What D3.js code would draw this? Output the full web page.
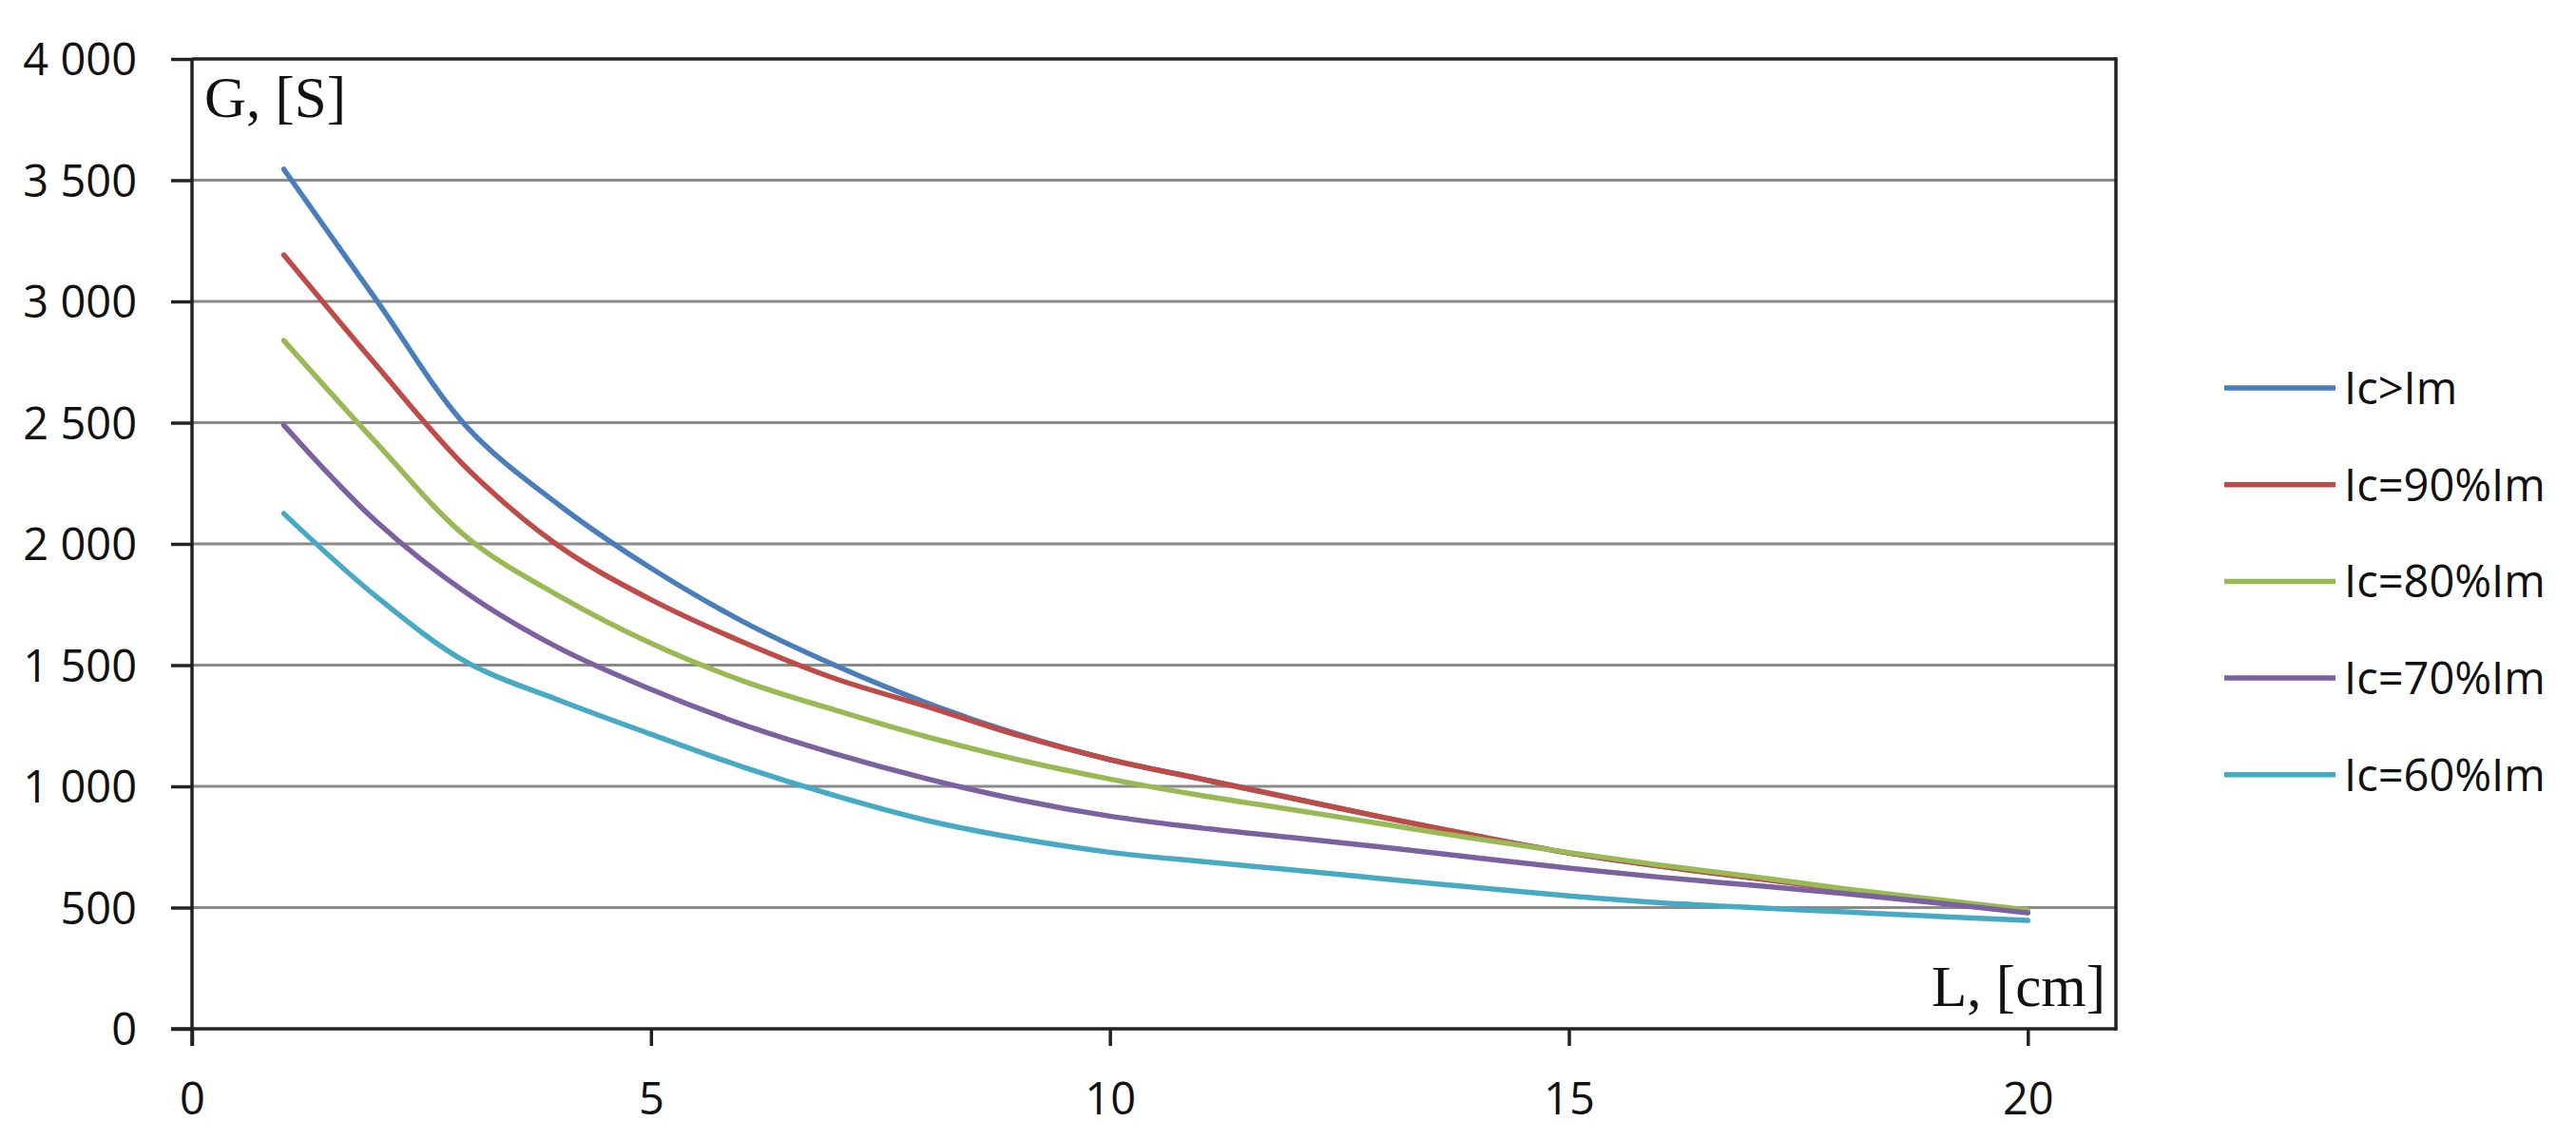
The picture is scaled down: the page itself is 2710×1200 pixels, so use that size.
<!DOCTYPE html>
<html>
<head>
<meta charset="utf-8">
<script src="https://cdn.jsdelivr.net/npm/d3@7"></script>
<style>
  html, body { margin: 0; padding: 0; background: #ffffff; }
  svg { display: block; }
</style>
</head>
<body>
<svg id="chart" width="2710" height="1200"></svg>
<script>
// ---- data ----
const lengths = [1,2,3,4,5,6,7,8,9,10,11,12,13,14,15,16,17,18,19,20];
const seriesNames = ["Ic>Im", "Ic=90%Im", "Ic=80%Im", "Ic=70%Im", "Ic=60%Im"];
const seriesColors = ["#4A7EBB", "#BE4B48", "#98B954", "#7D60A0", "#46AAC5"];
const gFull = [3545,3010,2480,2160,1900,1680,1500,1345,1215,1110,1030,950,870,795,725,670,622,575,528,480];
const g90   = [3192,2740,2310,1990,1770,1595,1445,1330,1210,1110,1030,950,870,795,725,670,622,575,528,480];
const g80   = [2839,2420,2025,1785,1590,1435,1315,1205,1110,1030,962,903,843,783,727,675,628,578,533,490];
const g70   = [2490,2095,1795,1570,1400,1255,1135,1032,945,877,828,788,748,705,663,625,592,558,520,478];
const g60   = [2125,1785,1510,1355,1215,1080,962,860,785,728,690,655,618,582,548,520,500,482,464,447];
const seriesValues = [gFull, g90, g80, g70, g60];
const xTicks = [0,5,10,15,20];
const yTicks = [0,500,1000,1500,2000,2500,3000,3500,4000];
const yTickLabels = ["0","500","1 000","1 500","2 000","2 500","3 000","3 500","4 000"];
const yTitle = "G, [S]";
const xTitle = "L, [cm]";

// ---- layout ----
const svg = d3.select("#chart");
const pLeft = 202, pRight = 2226, pTop = 62, pBottom = 1082;
const x = d3.scaleLinear().domain([0, 20.96]).range([pLeft, pRight]);
const y = d3.scaleLinear().domain([0, 4000]).range([pBottom, pTop]);
const textColor = "#111111";
const sansFont = "'Open Sans', 'Noto Sans', sans-serif";
const serifFont = "'Liberation Serif', 'Times New Roman', serif";

// gridlines
svg.append("g").selectAll("line")
  .data(yTicks.filter(v => v > 0 && v < 4000))
  .join("line")
  .attr("x1", pLeft).attr("x2", pRight)
  .attr("y1", d => y(d)).attr("y2", d => y(d))
  .attr("stroke", "#8a8a8a").attr("stroke-width", 3);

// frame top & right
svg.append("line").attr("x1", pLeft).attr("x2", pRight).attr("y1", pTop).attr("y2", pTop)
  .attr("stroke", "#222").attr("stroke-width", 3.5);
svg.append("line").attr("x1", pRight).attr("x2", pRight).attr("y1", pTop).attr("y2", pBottom)
  .attr("stroke", "#222").attr("stroke-width", 3.5).attr("stroke-linecap", "square");

// y axis
const yAxis = d3.axisLeft(y).tickValues(yTicks).tickSize(22).tickPadding(36)
  .tickFormat((d, i) => yTickLabels[i]);
const gy = svg.append("g").attr("transform", `translate(${pLeft},0)`).call(yAxis);
gy.select(".domain").attr("stroke", "#222").attr("stroke-width", 3.5)
  .attr("d", `M0,${pTop}V${pBottom + 18}`);
gy.selectAll(".tick line").attr("stroke", "#222").attr("stroke-width", 3.5);
gy.selectAll(".tick text").attr("fill", textColor).style("font-family", sansFont)
  .style("font-size", "47px").attr("dy", "0.36em");

// x axis
const xAxis = d3.axisBottom(x).tickValues(xTicks).tickSize(18).tickPadding(39)
  .tickFormat(d3.format("d"));
const gx = svg.append("g").attr("transform", `translate(0,${pBottom})`).call(xAxis);
gx.select(".domain").attr("stroke", "#222").attr("stroke-width", 3.5)
  .attr("d", `M${pLeft - 22},0H${pRight}`);
gx.selectAll(".tick line").attr("stroke", "#222").attr("stroke-width", 3.5);
gx.selectAll(".tick text").attr("fill", textColor).style("font-family", sansFont)
  .style("font-size", "47px").attr("dy", "0.71em");

// series lines
const line = d3.line()
  .x((d, i) => x(lengths[i]))
  .y(d => y(d))
  .curve(d3.curveCatmullRom.alpha(0.5));
svg.append("g").selectAll("path")
  .data(seriesValues)
  .join("path")
  .attr("d", d => line(d))
  .attr("fill", "none")
  .attr("stroke", (d, i) => seriesColors[i])
  .attr("stroke-width", 5.5)
  .attr("stroke-linecap", "round")
  .attr("stroke-linejoin", "round");

// axis titles
svg.append("text").attr("x", 215).attr("y", 123)
  .attr("fill", textColor).style("font-family", serifFont).style("font-size", "61px")
  .text(yTitle);
svg.append("text").attr("x", 2215).attr("y", 1058).attr("text-anchor", "end")
  .attr("fill", textColor).style("font-family", serifFont).style("font-size", "61px")
  .text(xTitle);

// legend
const legendTop = 408, legendStep = 101.7;
const lg = svg.append("g").selectAll("g")
  .data(seriesNames)
  .join("g")
  .attr("transform", (d, i) => `translate(0,${legendTop + i * legendStep})`);
lg.append("line").attr("x1", 2340).attr("x2", 2457).attr("y1", 0).attr("y2", 0)
  .attr("stroke", (d, i) => seriesColors[i]).attr("stroke-width", 5.5);
lg.append("text").attr("x", 2466).attr("y", 0).attr("dy", "0.36em")
  .attr("fill", textColor).style("font-family", sansFont).style("font-size", "47px")
  .text(d => d);
</script>
</body>
</html>
